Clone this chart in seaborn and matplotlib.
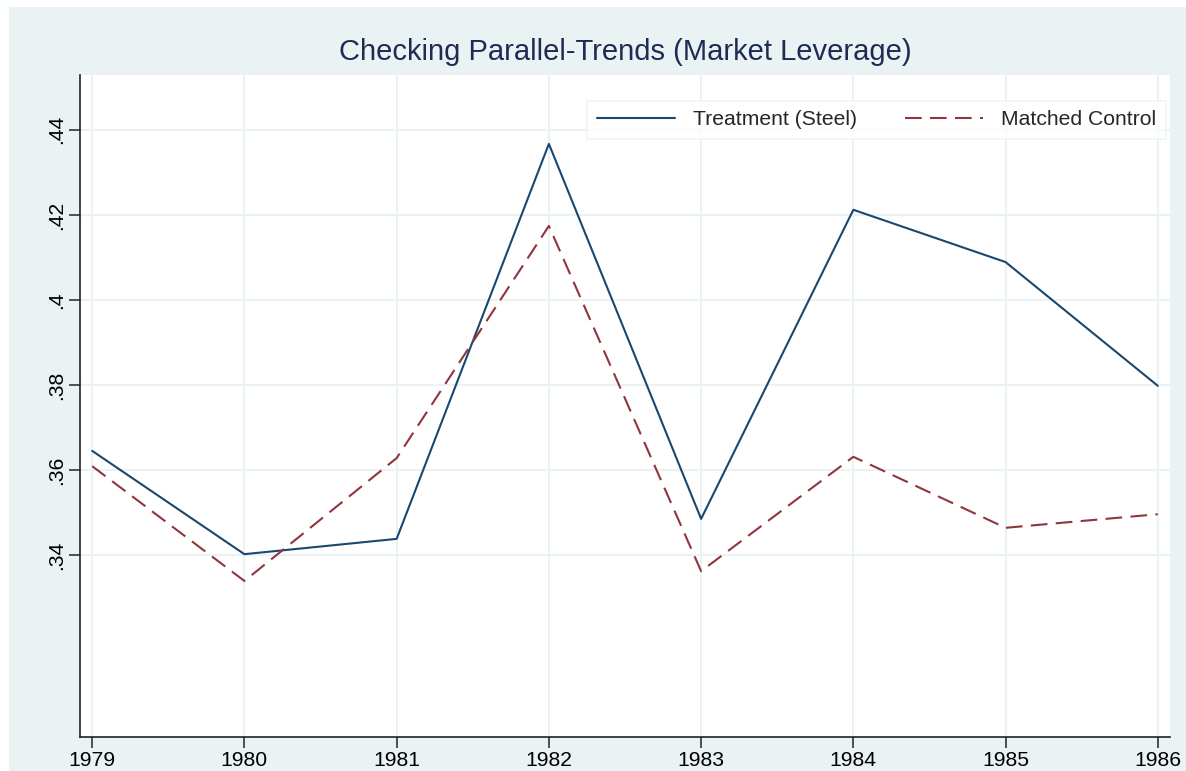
import seaborn as sns
import matplotlib.pyplot as plt
import matplotlib.patches as mpatches
import pandas as pd

years = [1979, 1980, 1981, 1982, 1983, 1984, 1985, 1986]
treatment = [0.3645, 0.3402, 0.3438, 0.4367, 0.3485, 0.4212, 0.4089, 0.3798]
control = [0.3609, 0.3339, 0.3628, 0.4174, 0.3362, 0.3631, 0.3464, 0.3496]
y_ticks = [0.34, 0.36, 0.38, 0.40, 0.42, 0.44]
y_labels = [".34", ".36", ".38", ".4", ".42", ".44"]

df = pd.DataFrame({
    "year": years * 2,
    "leverage": treatment + control,
    "group": ["Treatment (Steel)"] * len(years) + ["Matched Control"] * len(years),
})

sns.set_style("white")
plt.rcParams['font.family'] = ['Liberation Sans', 'DejaVu Sans']

bg = "#EAF2F3"
navy = "#1a476f"
maroon = "#90353b"

fig = plt.figure(figsize=(11.86, 7.71), dpi=100, facecolor="white")
fig.patches.append(mpatches.Rectangle((9 / 1186, 0), 1 - 9 / 1186, 1 - 7 / 771,
                                      transform=fig.transFigure, facecolor=bg,
                                      edgecolor="none", zorder=-10))
ax = fig.add_axes([80 / 1186, 34 / 771, 1090 / 1186, 662 / 771])

sns.lineplot(data=df, x="year", y="leverage", hue="group", style="group",
             palette=[navy, maroon], dashes=[(None, None), (8, 4)],
             linewidth=1.5, ax=ax)

ax.set_xlim(1978.92, 1986.08)
ax.set_ylim(0.2972, 0.4529)
ax.set_xticks(years)
ax.set_xticklabels([str(y) for y in years], fontsize=15.2, color="black")
ax.set_yticks(y_ticks)
ax.set_yticklabels(y_labels, fontsize=15.2, rotation=90, va="center", color="black")
ax.grid(True, color=bg, linewidth=1.5)
ax.set_axisbelow(True)
ax.tick_params(axis="both", which="both", direction="out", length=8, width=1.2,
               color="#333333", bottom=True, left=True, pad=2)
for side in ["top", "right"]:
    ax.spines[side].set_visible(False)
for side in ["left", "bottom"]:
    ax.spines[side].set_color("#222222")
    ax.spines[side].set_linewidth(1.2)
ax.set_xlabel("")
ax.set_ylabel("")
fig.text(625 / 1186, 1 - 52 / 771, "Checking Parallel-Trends (Market Leverage)",
         fontsize=21, color="#1e2c55", ha="center", va="center")

handles, labels = ax.get_legend_handles_labels()
leg = ax.legend(handles, labels, ncol=2, loc="upper right",
                bbox_to_anchor=(0.9963, 0.961), fontsize=15.2, frameon=True,
                fancybox=False, handlelength=3.7, columnspacing=2.3,
                borderpad=0.45, handletextpad=0.85, borderaxespad=0)
leg.get_frame().set_edgecolor(bg)
leg.get_frame().set_linewidth(1.2)

fig.savefig("out.png", dpi=100, facecolor=fig.get_facecolor())
